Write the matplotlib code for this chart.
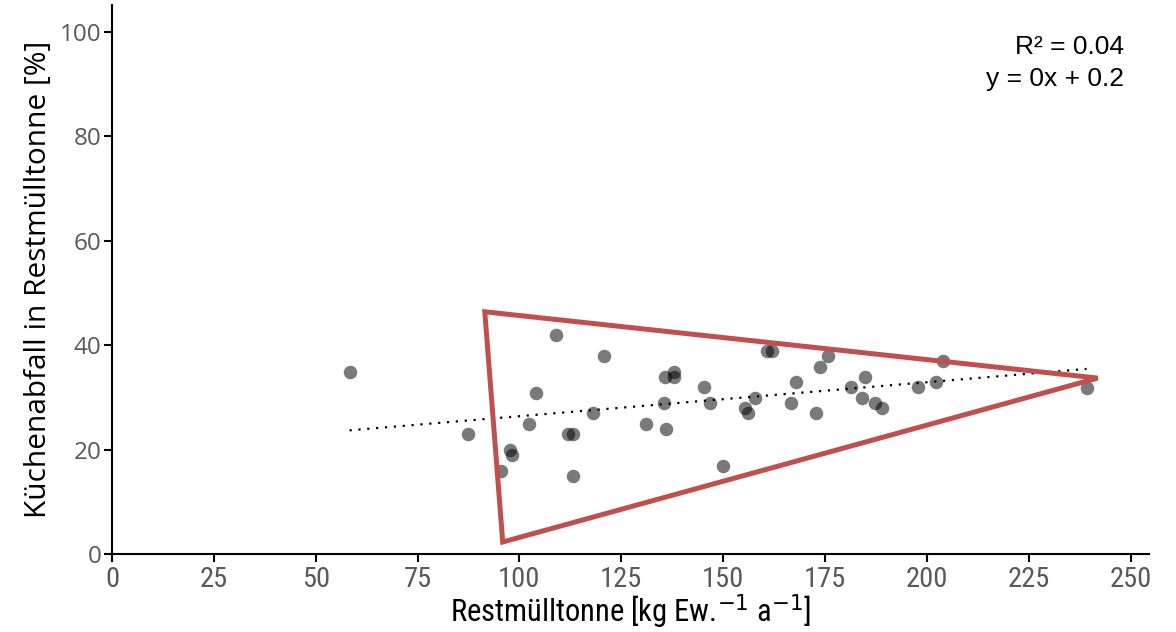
import numpy as np
import matplotlib
matplotlib.use('Agg')
import matplotlib.pyplot as plt
from matplotlib import font_manager

# data
rest_kg = [58.3, 87.3, 95.6, 97.8, 98.1, 104.0, 102.3, 108.9, 111.8, 113.1,
           113.1, 118.0, 120.7, 131.0, 135.4, 135.7, 135.9, 137.9, 137.9, 145.3,
           146.8, 149.9, 155.4, 156.1, 157.8, 160.7, 161.9, 166.7, 167.9, 172.8,
           173.8, 175.8, 181.4, 184.1, 184.9, 187.3, 189.0, 197.9, 202.3, 204.0,
           239.2]
kueche_pct = [34.9, 23.0, 15.9, 19.9, 19.0, 30.8, 24.9, 42.0, 23.0, 23.0,
              14.9, 27.0, 37.9, 24.9, 28.9, 33.9, 23.9, 34.9, 33.9, 32.0,
              28.9, 16.9, 28.0, 27.0, 29.9, 38.9, 38.9, 28.9, 33.0, 27.0,
              35.8, 37.9, 32.0, 29.9, 33.9, 28.9, 28.0, 32.0, 33.0, 37.0,
              31.8]

# hand drawn triangle around the cluster
tri_x = [91.5, 95.9, 241.9]
tri_y = [46.4, 2.3, 33.7]

xticks = [0, 25, 50, 75, 100, 125, 150, 175, 200, 225, 250]
yticks = [0, 20, 40, 60, 80, 100]

x = np.array(rest_kg)
y = np.array(kueche_pct)

# pick a narrow face if one is around
names = set(f.name for f in font_manager.fontManager.ttflist)
narrow = [n for n in ['Liberation Sans Narrow', 'Arial Narrow', 'Roboto Condensed',
                      'Open Sans Condensed', 'DejaVu Sans Condensed'] if n in names]
narrow_family = narrow[:1] + ['DejaVu Sans']

fig = plt.figure(figsize=(11.76, 6.32), dpi=100)
ax = fig.add_axes([0.0952, 0.1234, 0.8818, 0.869])

ax.scatter(x, y, s=95, color='black', alpha=0.52, linewidths=0, zorder=3)

# linear trend
k, d = np.polyfit(x, y, 1)
xt = np.array([x.min(), x.max()])
ax.plot(xt, k*xt + d, color='black', linestyle=(0, (1, 3)), linewidth=1.6, zorder=2)

ax.fill(tri_x, tri_y, fill=False, edgecolor='#C0504D', linewidth=3.6,
        joinstyle='miter', zorder=4)

ax.set_xlim(0, 254.5)
ax.set_ylim(0, 105.2)
ax.set_xticks(xticks)
ax.set_yticks(yticks)

for s in ['top', 'right']:
    ax.spines[s].set_visible(False)
for s in ['left', 'bottom']:
    ax.spines[s].set_linewidth(1.5)
ax.tick_params(axis='both', length=5.5, width=1.5, color='black')
ax.tick_params(axis='y', labelsize=17.5, labelcolor='#595959', pad=2)
ax.tick_params(axis='x', labelsize=20.5, labelcolor='#595959', pad=3)
for lab in ax.get_yticklabels():
    lab.set_fontfamily('Open Sans')
for lab in ax.get_xticklabels():
    lab.set_fontfamily(narrow_family)
    lab.set_fontstretch('condensed')

ax.set_ylabel('Küchenabfall in Restmülltonne [%]', fontsize=21.5,
              family='Open Sans', labelpad=5)
ax.set_xlabel('Restmülltonne [kg Ew.$^{-1}$ a$^{-1}$]', fontsize=22,
              family=narrow_family, fontstretch='condensed', labelpad=0)

fig.text(1124/1176, 1 - 47/632, 'R² = 0.04', ha='right', va='center',
         fontsize=19, family='Liberation Sans')
fig.text(1124/1176, 1 - 79/632, 'y = 0x + 0.2', ha='right', va='center',
         fontsize=19, family='Liberation Sans')

plt.savefig('out.png', dpi=100)
